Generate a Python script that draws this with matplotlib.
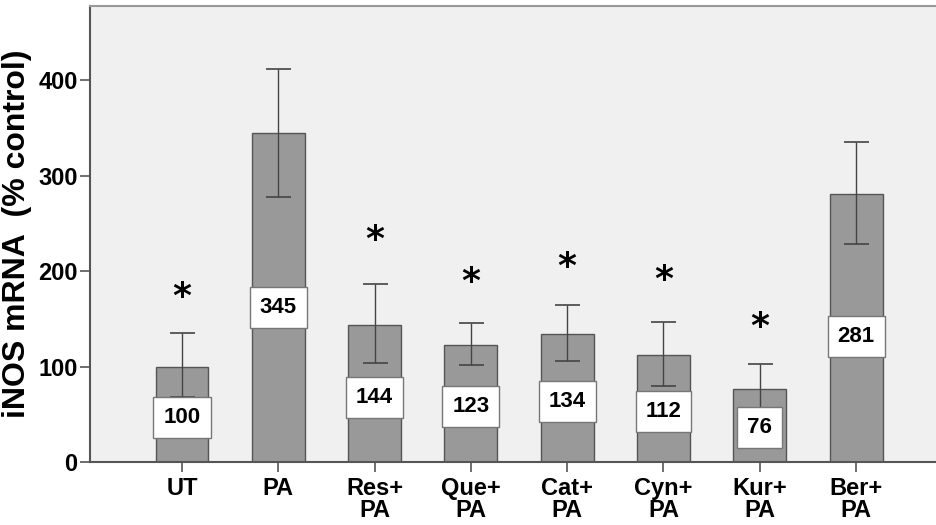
import matplotlib.pyplot as plt
import numpy as np

groups = ['UT', 'PA', 'Res+\nPA', 'Que+\nPA', 'Cat+\nPA', 'Cyn+\nPA', 'Kur+\nPA', 'Ber+\nPA']
means = [100, 345, 144, 123, 134, 112, 76, 281]
err_hi = [135, 412, 187, 146, 165, 147, 103, 335]
err_lo = [68, 278, 104, 102, 106, 80, 51, 229]
star_y = [173, None, 233, 189, 204, 191, 141, None]

FONT = ['Liberation Sans', 'DejaVu Sans']
plt.rcParams['font.family'] = FONT
plt.rcParams['font.weight'] = 'bold'

fig = plt.figure(figsize=(9.36, 5.25), dpi=100)
ax = fig.add_axes([0.0962, 0.12, 0.9038, 0.8686])
ax.set_facecolor('#f0f0f0')

x = np.arange(len(groups))
means = np.array(means)
yerr = [means - np.array(err_lo), np.array(err_hi) - means]

ax.bar(x, means, width=0.55, color='#999999', edgecolor='#555555', linewidth=1.0, zorder=2)
ax.errorbar(x, means, yerr=yerr, fmt='none', ecolor='#444444', elinewidth=1.0,
            capsize=9, capthick=1.2, zorder=3)

# value boxes sit about halfway up each bar
for xi, m in zip(x, means):
    ax.text(xi, m * 0.47, str(m), ha='center', va='center', fontsize=16, fontweight='bold',
            bbox=dict(boxstyle='square,pad=0.45', fc='white', ec='#777777', lw=1), zorder=4)

for xi, s in zip(x, star_y):
    if s is not None:
        ax.text(xi, s, '*', ha='center', va='center', fontsize=26, fontweight='bold',
                family='DejaVu Sans', zorder=4)

ax.set_xlim(-0.955, 7.83)
ax.set_ylim(0, 478)
ax.set_yticks([0, 100, 200, 300, 400])
ax.set_xticks(x)
ax.set_xticklabels(groups, fontsize=17, fontweight='bold', linespacing=0.95)
ax.tick_params(axis='y', labelsize=17, length=7, width=1.2, color='#555555', pad=2)
ax.tick_params(axis='x', length=7, width=1.2, color='#555555', pad=4)
for lab in ax.get_yticklabels():
    lab.set_fontweight('bold')

ax.set_ylabel('iNOS mRNA  (% control)', fontsize=23, fontweight='bold', labelpad=4)

for side in ['left', 'bottom']:
    ax.spines[side].set_color('#555555')
    ax.spines[side].set_linewidth(1.5)
ax.spines['top'].set_color('#999999')
ax.spines['top'].set_linewidth(1.5)
ax.spines['right'].set_visible(False)

fig.savefig('out.png', dpi=100)
